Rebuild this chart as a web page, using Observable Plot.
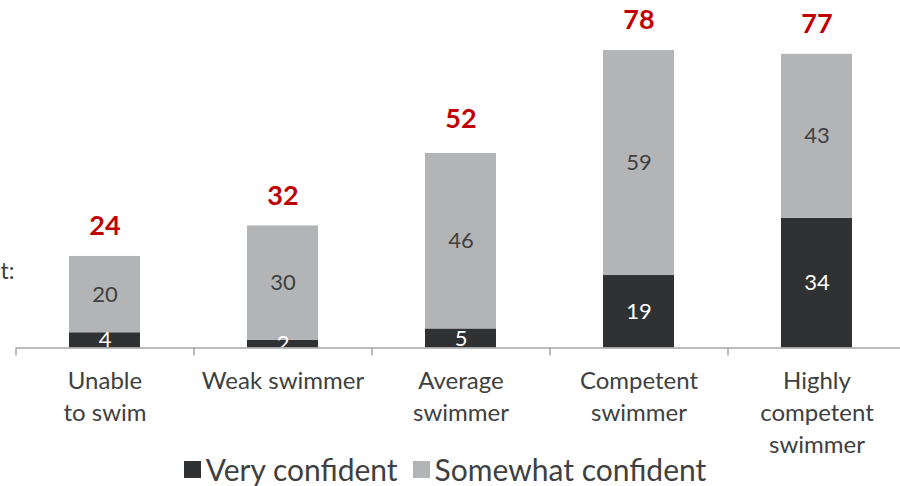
<!DOCTYPE html>
<html>
<head>
<meta charset="utf-8">
<script src="https://cdn.jsdelivr.net/npm/d3@7"></script>
<script src="https://cdn.jsdelivr.net/npm/@observablehq/plot@0.6"></script>
<style>
  html, body { margin: 0; padding: 0; background: #fff; }
  #wrap { position: relative; width: 900px; height: 486px; overflow: hidden; font-family: Lato, "Open Sans", sans-serif; }
  #legend { position: absolute; left: 0; width: 890px; top: 450px; display: flex; justify-content: center; align-items: center; gap: 15px; font-size: 30px; color: #404040; line-height: 38px; }
  #legend span.sw { display: inline-block; width: 17px; height: 17px; margin-right: 5px; }
  #legend .item { display: flex; align-items: center; }
</style>
</head>
<body>
<div id="wrap"></div>
<script>
const categories = ["Unable\nto swim", "Weak swimmer", "Average\nswimmer", "Competent\nswimmer", "Highly\ncompetent\nswimmer"];
const veryConfident = [4, 2, 5, 19, 34];
const somewhatConfident = [20, 30, 46, 59, 43];
const totals = [24, 32, 52, 78, 77];
const seriesNames = ["Very confident", "Somewhat confident"];
const seriesColors = ["#303133", "#b3b4b6"];
const leftLabel = "t:";

const rows = [];
categories.forEach((c, i) => {
  rows.push({cat: c, series: seriesNames[0], value: veryConfident[i]});
  rows.push({cat: c, series: seriesNames[1], value: somewhatConfident[i]});
});
const totalRows = categories.map((c, i) => ({cat: c, total: totals[i]}));

const stackOpts = {x: "cat", y: "value", z: "series", order: seriesNames};

const chart = Plot.plot({
  width: 900,
  height: 486,
  marginLeft: 16,
  marginRight: 0,
  marginTop: 0,
  marginBottom: 0,
  style: {fontFamily: "Lato, 'Open Sans', sans-serif", background: "#fff"},
  x: {domain: categories, range: [16, 906], paddingInner: 0.6, paddingOuter: 0.3, axis: null},
  y: {domain: [0, 78], range: [347.5, 50], axis: null},
  color: {domain: seriesNames, range: seriesColors},
  marks: [
    Plot.barY(rows, Plot.stackY({...stackOpts, fill: "series"})),
    Plot.text(rows, Plot.stackY({...stackOpts, text: "value", fill: d => d.series === seriesNames[0] ? "#ffffff" : "#404040", fontSize: 22})),
    Plot.text(totalRows, {x: "cat", y: "total", text: "total", dy: -30, fill: "#c00000", fontWeight: "bold", fontSize: 27}),
    Plot.ruleY([0], {stroke: "#a6a6a6", strokeWidth: 1.5}),
    Plot.ruleX(categories, {x: d => d, y1: 0, y2: -2.1, dx: -89, stroke: "#a6a6a6", strokeWidth: 1.5}),
    Plot.text(categories, {x: d => d, y: 0, text: d => d, lineAnchor: "top", dy: 18, lineHeight: 1.333, fontSize: 24, fill: "#404040"}),
    Plot.text([leftLabel], {x: () => categories[0], y: () => 20, text: d => d, dx: -104.5, textAnchor: "start", fontSize: 23, fill: "#404040"})
  ]
});
document.getElementById("wrap").appendChild(chart);

const legend = document.createElement("div");
legend.id = "legend";
seriesNames.forEach((n, i) => {
  const it = document.createElement("div");
  it.className = "item";
  const sw = document.createElement("span");
  sw.className = "sw";
  sw.style.background = seriesColors[i];
  it.appendChild(sw);
  it.appendChild(document.createTextNode(n));
  legend.appendChild(it);
});
document.getElementById("wrap").appendChild(legend);
</script>
</body>
</html>
